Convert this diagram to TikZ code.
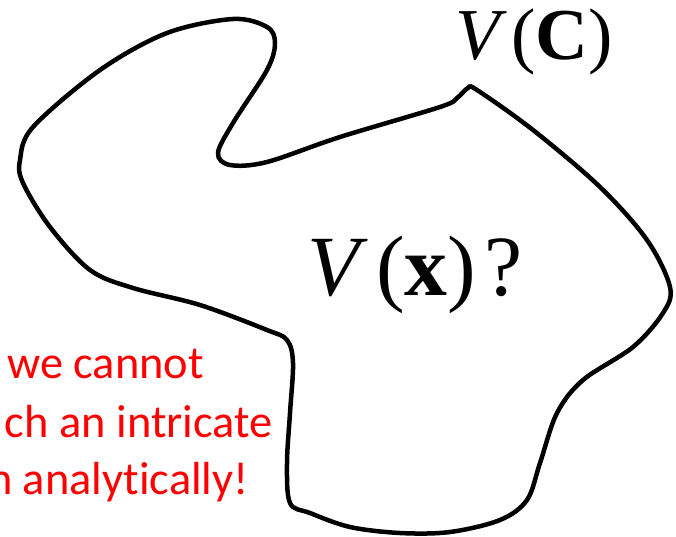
\documentclass[tikz,border=0pt]{standalone}
\usepackage{fontspec}
\setmainfont{Liberation Serif}
\newfontfamily\notefont[Ligatures={NoCommon,NoRare}]{Carlito}
\begin{document}
\begin{tikzpicture}[x=0.025cm,y=-0.025cm,line join=round]
\useasboundingbox (0,0) rectangle (676,537);
\clip (0,0) rectangle (676,537);
% the domain
\draw[black,line width=3.2pt] plot[smooth cycle,tension=0.55] coordinates {
 (20,160) (33,127) (100,70) (167,33) (233,19) (267,27) (275,43) (267,70)
 (233,123) (218,153) (230,165) (267,162) (340,137) (440,107) (457,98)
 (468,88) (477,90) (533,130) (600,187) (647,240) (670,287) (663,313)
 (633,347) (583,380) (557,413) (540,463) (527,500) (500,520) (450,532)
 (400,533) (350,527) (310,513) (290,503) (287,463) (290,413) (293,363)
 (287,340) (267,330) (200,305) (133,288) (90,270) (50,227) (23,183)};
% labels
\node[anchor=base west,inner sep=0pt] (vc) at (455,60)
 {\fontsize{52}{60}\selectfont\textit{V}\kern3pt(\textbf{C})};
\node[anchor=base west,inner sep=0pt] (vx) at (307,295)
 {\fontsize{61}{70}\selectfont\textit{V}\kern6pt(\textbf{x})\kern6pt?};
% note, cut at the left edge
\node[anchor=base west,inner sep=0pt,red,font=\notefont\fontsize{33}{40}\selectfont] (note1) at (7,378) {we cannot};
\node[anchor=base east,inner sep=0pt,red,font=\notefont\fontsize{33}{40}\selectfont] (note2) at (273,437) {ch an intricate};
\node[anchor=base east,inner sep=0pt,red,font=\notefont\fontsize{33}{40}\selectfont] (note3) at (249,494) {n analytically!};
\end{tikzpicture}
\end{document}
